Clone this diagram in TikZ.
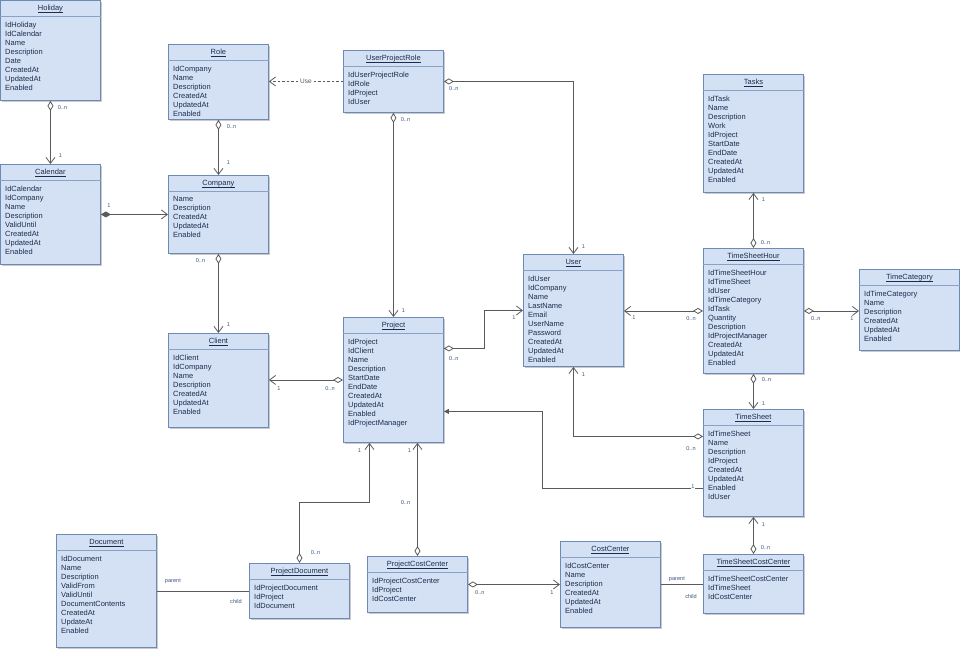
\documentclass[tikz,border=0pt]{standalone}
\usepackage{fontspec}
\setmainfont{Liberation Sans}
\usetikzlibrary{arrows.meta,shadows}
\definecolor{classfill}{HTML}{D4E1F5}
\definecolor{classdraw}{HTML}{6C8AB5}
\definecolor{classtext}{HTML}{1C2C4C}
\definecolor{linkgray}{HTML}{5A5A5A}
\definecolor{multtext}{HTML}{3A5580}
\newcommand{\clsname}[1]{\underline{\raisebox{0pt}[\height][0pt]{#1}}}
% #1 name, #2 x, #3 y, #4 height, #5 title, #6 attributes
\newcommand{\umlclass}[6]{%
  \node[classbox, minimum height=#4pt] (#1) at (#2,#3) {};
  \node[classtitle] (#1-title) at ([yshift=-10.5]#1.north) {\clsname{#5}};
  \draw[classrule] ([yshift=-16]#1.north west) -- ([yshift=-16]#1.north east);
  \node[classattr] (#1-attr) at ([xshift=5,yshift=-21.5]#1.north west) {#6};
}
\tikzset{
  classbox/.style={draw=classdraw, fill=classfill, line width=0.9pt, anchor=north west,
    minimum width=100pt, inner sep=0pt,
    drop shadow={shadow xshift=1.5pt, shadow yshift=-1.5pt, opacity=0.35, fill=black!60}},
  classtitle/.style={anchor=base, font=\fontsize{7.5}{9}\selectfont, text=classtext, inner sep=0pt},
  classrule/.style={draw=classdraw!80, line width=0.6pt},
  classattr/.style={anchor=north west, inner sep=0pt, align=left,
    font=\fontsize{7.5}{9}\selectfont, text=classtext},
  mult/.style={font=\fontsize{5.6}{6.5}\selectfont, text=multtext, inner sep=0.6pt},
  link/.style={draw=linkgray, line width=0.8pt},
  agg/.style={link, {Diamond[length=10pt, width=6pt, fill=white]}-{Straight Barb[length=6pt, width=9pt]}},
  comp/.style={link, {Diamond[length=10pt, width=6pt]}-{Straight Barb[length=6pt, width=9pt]}},
  dep/.style={link, dash pattern=on 2.5pt off 2pt, -{Straight Barb[length=6pt, width=9pt]}},
  assoc/.style={link, -{Triangle[length=5pt, width=5pt]}}
}
\begin{document}
\begin{tikzpicture}[x=1pt, y=-1pt]
  \useasboundingbox (0,0) rectangle (960,650);

  \umlclass{holiday}{0}{0}{100}{Holiday}{IdHoliday\\IdCalendar\\Name\\Description\\Date\\CreatedAt\\UpdatedAt\\Enabled}
  \umlclass{calendar}{0}{164}{100}{Calendar}{IdCalendar\\IdCompany\\Name\\Description\\ValidUntil\\CreatedAt\\UpdatedAt\\Enabled}
  \umlclass{role}{168}{44}{75}{Role}{IdCompany\\Name\\Description\\CreatedAt\\UpdatedAt\\Enabled}
  \umlclass{company}{168}{175}{78}{Company}{Name\\Description\\CreatedAt\\UpdatedAt\\Enabled}
  \umlclass{client}{168}{333}{94}{Client}{IdClient\\IdCompany\\Name\\Description\\CreatedAt\\UpdatedAt\\Enabled}
  \umlclass{upr}{343}{50}{62}{UserProjectRole}{IdUserProjectRole\\IdRole\\IdProject\\IdUser}
  \umlclass{project}{343}{317}{125}{Project}{IdProject\\IdClient\\Name\\Description\\StartDate\\EndDate\\CreatedAt\\UpdatedAt\\Enabled\\IdProjectManager}
  \umlclass{user}{523}{254}{112}{User}{IdUser\\IdCompany\\Name\\LastName\\Email\\UserName\\Password\\CreatedAt\\UpdatedAt\\Enabled}
  \umlclass{tasks}{703}{74}{118}{Tasks}{IdTask\\Name\\Description\\Work\\IdProject\\StartDate\\EndDate\\CreatedAt\\UpdatedAt\\Enabled}
  \umlclass{tsh}{703}{248}{125}{TimeSheetHour}{IdTimeSheetHour\\IdTimeSheet\\IdUser\\IdTimeCategory\\IdTask\\Quantity\\Description\\IdProjectManager\\CreatedAt\\UpdatedAt\\Enabled}
  \umlclass{timecat}{859}{269}{81}{TimeCategory}{IdTimeCategory\\Name\\Description\\CreatedAt\\UpdatedAt\\Enabled}
  \umlclass{timesheet}{703}{409}{107}{TimeSheet}{IdTimeSheet\\Name\\Description\\IdProject\\CreatedAt\\UpdatedAt\\Enabled\\IdUser}
  \umlclass{tscc}{703}{554}{59}{TimeSheetCostCenter}{IdTimeSheetCostCenter\\IdTimeSheet\\IdCostCenter}
  \umlclass{costcenter}{560}{541}{86}{CostCenter}{IdCostCenter\\Name\\Description\\CreatedAt\\UpdatedAt\\Enabled}
  \umlclass{pcc}{367}{556}{56}{ProjectCostCenter}{IdProjectCostCenter\\IdProject\\IdCostCenter}
  \umlclass{pd}{249}{563}{55}{ProjectDocument}{IdProjectDocument\\IdProject\\IdDocument}
  \umlclass{document}{56}{534}{113}{Document}{IdDocument\\Name\\Description\\ValidFrom\\ValidUntil\\DocumentContents\\CreatedAt\\UpdateAt\\Enabled}

  \draw[agg] (holiday.south) node[mult, xshift=12, yshift=-7] {0..n} -- (calendar.north) node[mult, xshift=10, yshift=8] {1};
  \draw[agg] (role.south) node[mult, xshift=13, yshift=-7] {0..n} -- (company.north) node[mult, xshift=10, yshift=12] {1};
  \draw[comp] (calendar.east) node[mult, xshift=8, yshift=9] {1} -- (calendar.east -| company.west);
  \draw[agg] (company.south) node[mult, xshift=-18, yshift=-7] {0..n} -- (client.north) node[mult, xshift=10, yshift=8] {1};
  \draw[agg] (project.west) node[mult, xshift=-13, yshift=-9] {0..n} -- (project.west -| client.east) node[mult, xshift=10, yshift=-9] {1};
  \draw[dep] (upr.west) -- node[fill=white, inner sep=0.5pt, font=\fontsize{6.5}{7.5}\selectfont, text=linkgray] {Use} (upr.west -| role.east);
  \draw[agg] (upr.south) node[mult, xshift=12, yshift=-7] {0..n} -- (project.north) node[mult, xshift=10, yshift=6] {1};
  \draw[agg] (upr.east) node[mult, xshift=10, yshift=-7] {0..n} -| (user.north) node[mult, xshift=10, yshift=7] {1};
  \draw[agg] ([yshift=31.5]project.east) node[mult, xshift=10, yshift=-10] {0..n} -- ++(40,0) |- (user.west) node[mult, xshift=-9, yshift=-7] {1};
  \draw[agg] (tsh.west) node[mult, xshift=-12, yshift=-8] {0..n} -- (tsh.west -| user.east) node[mult, xshift=10, yshift=-7] {1};
  \draw[agg] (tsh.north) node[mult, xshift=12, yshift=5] {0..n} -- (tasks.south) node[mult, xshift=10, yshift=-7] {1};
  \draw[agg] (tsh.east) node[mult, xshift=12, yshift=-8] {0..n} -- (tsh.east -| timecat.west) node[mult, xshift=-7, yshift=-8] {1};
  \draw[agg] (tsh.south) node[mult, xshift=13, yshift=-6] {0..n} -- (timesheet.north) node[mult, xshift=10, yshift=5] {1};
  \draw[agg] ([yshift=26.5]timesheet.west) node[mult, xshift=-12, yshift=-12] {0..n} -| (user.south) node[mult, xshift=10, yshift=-8] {1};
  \draw[assoc] ([yshift=-25.5]timesheet.west) node[mult, fill=white, xshift=-10, yshift=2] {1} -- ++(-161,0) |- ([yshift=-31.5]project.east);
  \draw[agg] (tscc.north) node[mult, xshift=12, yshift=6] {0..n} -- (timesheet.south) node[mult, xshift=10, yshift=-8] {1};
  \draw[agg] (pcc.east) node[mult, xshift=12, yshift=-8] {0..n} -- (pcc.east -| costcenter.west) node[mult, xshift=-8, yshift=-8] {1};
  \draw[agg] (pcc.north) node[mult, xshift=-12, yshift=53] {0..n} -- (pcc.north |- project.south) node[mult, xshift=-8, yshift=-8] {1};
  \draw[agg] (pd.north) node[mult, xshift=16, yshift=10] {0..n} -- ++(0,-61) -| ([xshift=-24]project.south) node[mult, xshift=-10, yshift=-8] {1};
  \draw[link] (document.east) node[mult, xshift=16, yshift=10] {parent} -- (document.east -| pd.west) node[mult, xshift=-13, yshift=-11] {child};
  \draw[link] (costcenter.east) node[mult, xshift=16, yshift=5] {parent} -- (costcenter.east -| tscc.west) node[mult, xshift=-12, yshift=-12] {child};
\end{tikzpicture}
\end{document}
